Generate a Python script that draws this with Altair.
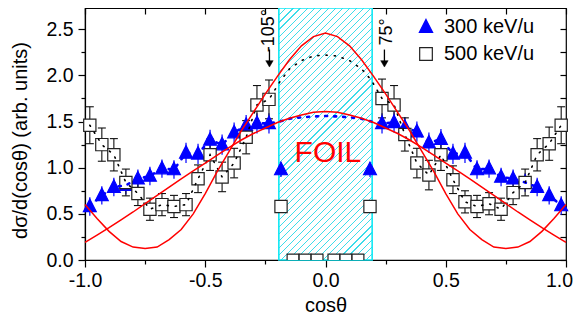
import altair as alt
import pandas as pd

# ---------------- data ----------------
pt_cos = [-0.98, -0.93, -0.88, -0.83, -0.78, -0.73, -0.68, -0.63, -0.58, -0.53,
          -0.48, -0.43, -0.38, -0.33, -0.285, -0.235, -0.185,
          0.185, 0.235, 0.285, 0.33, 0.38, 0.43, 0.48, 0.53, 0.58, 0.63,
          0.68, 0.73, 0.78, 0.83, 0.88, 0.93, 0.98]
tri_300 = [0.58, 0.70, 0.79, 0.81, 0.88, 0.91, 0.99, 0.98, 1.16, 1.15,
           1.30, 1.25, 1.38, 1.46, 1.48, 1.48, 0.98,
           0.98, 1.48, 1.49, 1.44, 1.39, 1.27, 1.31, 1.15, 1.16, 0.98,
           0.99, 0.90, 0.88, 0.84, 0.79, 0.70, 0.59]
tri_err = [0.10, 0.10, 0.10, 0.10, 0.10, 0.10, 0.10, 0.10, 0.11, 0.11,
           0.11, 0.11, 0.11, 0.11, 0.11, 0.11, 0.08,
           0.08, 0.11, 0.11, 0.11, 0.11, 0.11, 0.11, 0.11, 0.11, 0.10,
           0.10, 0.10, 0.10, 0.10, 0.10, 0.10, 0.10]
sq_500 = [1.46, 1.25, 1.14, 0.84, 0.72, 0.55, 0.60, 0.58, 0.60, 0.88,
          1.14, 0.90, 1.05, 1.33, 1.68, 1.74, 0.58,
          0.58, 1.75, 1.68, 1.36, 1.05, 0.92, 1.14, 0.87, 0.63, 0.58,
          0.61, 0.55, 0.73, 0.84, 1.14, 1.26, 1.46]
sq_err = [0.20, 0.18, 0.175, 0.145, 0.13, 0.12, 0.12, 0.12, 0.12, 0.15,
          0.17, 0.16, 0.16, 0.18, 0.21, 0.21, 0.05,
          0.05, 0.21, 0.21, 0.18, 0.16, 0.16, 0.17, 0.15, 0.12, 0.12,
          0.12, 0.12, 0.13, 0.145, 0.175, 0.18, 0.20]

# squares sitting on the axis inside the foil region
bot_cos = [-0.135, -0.085, -0.035, 0.035, 0.085, 0.135]
bot_500 = [0.0, 0.0, 0.0, 0.0, 0.0, 0.0]
bot_err = [0.03, 0.03, 0.03, 0.03, 0.03, 0.03]

# dotted curves through the foil region
arc_cos = [-0.19, -0.15, -0.10, -0.05, 0.0, 0.05, 0.10, 0.15, 0.19]
arc_500 = [1.93, 2.07, 2.16, 2.21, 2.22, 2.21, 2.16, 2.07, 1.95]
arc_300 = [1.50, 1.53, 1.545, 1.555, 1.56, 1.555, 1.545, 1.53, 1.50]

# red fitted curves
fit_cos = [-1.0, -0.95, -0.9, -0.85, -0.8, -0.75, -0.7, -0.65, -0.6, -0.55,
           -0.5, -0.45, -0.4, -0.35, -0.3, -0.25, -0.2, -0.15, -0.1, -0.05,
           0.0, 0.05, 0.1, 0.15, 0.2, 0.25, 0.3, 0.35, 0.4, 0.45,
           0.5, 0.55, 0.6, 0.65, 0.7, 0.75, 0.8, 0.85, 0.9, 0.95, 1.0]
fit_500 = [0.60, 0.45, 0.31, 0.20, 0.14, 0.125, 0.14, 0.22, 0.33, 0.50,
           0.72, 0.96, 1.18, 1.40, 1.60, 1.80, 1.99, 2.17, 2.32, 2.42,
           2.46, 2.42, 2.32, 2.17, 1.99, 1.80, 1.60, 1.40, 1.18, 0.96,
           0.72, 0.50, 0.33, 0.22, 0.14, 0.125, 0.14, 0.20, 0.31, 0.45, 0.60]
fit_300 = [0.19, 0.27, 0.35, 0.435, 0.52, 0.61, 0.70, 0.79, 0.88, 0.965,
           1.05, 1.135, 1.22, 1.30, 1.37, 1.43, 1.49, 1.535, 1.57, 1.60,
           1.61, 1.60, 1.57, 1.535, 1.49, 1.43, 1.37, 1.30, 1.22, 1.135,
           1.05, 0.965, 0.88, 0.79, 0.70, 0.61, 0.52, 0.435, 0.35, 0.27, 0.19]

foil_lo, foil_hi = -0.194, 0.194
series_names = ["300 keV/u", "500 keV/u"]
angle_cos = [-0.233, 0.245]
angle_text = ["-105°", "75°"]
angle_text_cos = [-0.236, 0.256]
angle_text_val = [2.485, 2.47]

# ---------------- layout / style ----------------
W, H = 481, 252
Y_MAX = 2.73
FONT = "Liberation Sans"
BLUE = "#0000ff"
RED = "#ff0000"
CYAN = "#3ddcea"

xs = alt.Scale(domain=[-1, 1], nice=False, zero=False)
ys = alt.Scale(domain=[0, Y_MAX], nice=False, zero=False)

major = "abs(datum.value*2 - round(datum.value*2)) < 0.001"
x_ticks = [-1, -0.75, -0.5, -0.25, 0, 0.25, 0.5, 0.75, 1]
y_ticks = [0, 0.25, 0.5, 0.75, 1, 1.25, 1.5, 1.75, 2, 2.25, 2.5]

common_axis = dict(grid=False, tickColor="black", tickWidth=1.2, domainColor="black",
                   domainWidth=1.2, labelFont=FONT, labelFontSize=19.5, labelColor="black",
                   titleFont=FONT, titleFontSize=20, titleFontWeight="normal",
                   titleColor="black", labelOverlap=False, labelFlush=False)

x_axis = alt.Axis(values=x_ticks,
                  labelExpr=f"{major} ? replace(format(datum.value, '.1f'), '\u2212', '-') : ''",
                  labelOffset={"condition": {"test": "datum.value > 0.99", "value": -7}, "value": 0},
                  tickSize={"condition": {"test": major, "value": 7}, "value": 4},
                  labelPadding=4, title="cosθ", titleY=45, titleBaseline="middle",
                  **common_axis)
y_axis = alt.Axis(values=y_ticks,
                  labelExpr=f"{major} ? format(datum.value, '.1f') : ''",
                  tickSize={"condition": {"test": major, "value": 7}, "value": 4},
                  labelPadding=5, title="dσ/d(cosθ) (arb. units)", titleX=-65, titleY=132,
                  titleBaseline="middle", titleAngle=270, **common_axis)
top_axis = alt.Axis(orient="top", values=x_ticks, labels=False, domain=False, tickSize=6,
                    offset=-6, title=None, grid=False, tickColor="black", tickWidth=1.2)
right_axis = alt.Axis(orient="right", values=y_ticks, labels=False, domain=False, tickSize=6,
                      offset=-6, title=None, grid=False, tickColor="black", tickWidth=1.2)

# ---------------- data frames ----------------
n = len(pt_cos)
pts = pd.DataFrame({
    "cos": pt_cos * 2,
    "val": tri_300 + sq_500,
    "err": tri_err + sq_err,
    "series": [series_names[0]] * n + [series_names[1]] * n,
})
pts["lo"] = pts["val"] - pts["err"]
pts["hi"] = pts["val"] + pts["err"]
tri_df = pts[pts["series"] == series_names[0]]
sq_df = pts[pts["series"] == series_names[1]]

bot = pd.DataFrame({"cos": bot_cos, "val": bot_500, "err": bot_err})
bot["lo"] = bot["val"] - bot["err"]
bot["hi"] = bot["val"] + bot["err"]

fits = pd.DataFrame({
    "cos": fit_cos * 2,
    "val": fit_500 + fit_300,
    "curve": ["500"] * len(fit_cos) + ["300"] * len(fit_cos),
})

# dotted lines: data outside the foil joined to the arc inside
outside = [i for i, c in enumerate(pt_cos) if abs(c) > 0.2]
left_i = [i for i in outside if pt_cos[i] < 0]
right_i = [i for i in outside if pt_cos[i] > 0]
dot500 = pd.DataFrame({
    "cos": [pt_cos[i] for i in left_i] + arc_cos + [pt_cos[i] for i in right_i],
    "val": [sq_500[i] for i in left_i] + arc_500 + [sq_500[i] for i in right_i],
})
dot300 = pd.DataFrame({
    "cos": [pt_cos[i] for i in left_i] + arc_cos + [pt_cos[i] for i in right_i],
    "val": [tri_300[i] for i in left_i] + arc_300 + [tri_300[i] for i in right_i],
})
dot500["o"] = range(len(dot500))
dot300["o"] = range(len(dot300))

foil = pd.DataFrame({"x1": [foil_lo], "x2": [foil_hi], "y1": [0.0], "y2": [Y_MAX]})

arrows = pd.DataFrame({"cos": angle_cos, "top": [2.28, 2.28], "bot": [2.14, 2.14],
                       "tip": [2.125, 2.125]})
angle_df = pd.DataFrame({"cos": angle_text_cos, "val": angle_text_val, "t": angle_text})
foil_lbl = pd.DataFrame({"cos": [0.01], "val": [1.16], "t": ["FOIL"]})

# ---------------- hatch fill (diagonal stripes via hard-stop gradient) ----------------
rw = (foil_hi - foil_lo) / 2.0 * W
r = rw / H
k = (r + 1) / (r * r + 1)
span = rw + H
period = 7.0
nstripe = int(round(span / period))
lw = 1.1 / span
stops = []
for i in range(nstripe):
    s = i / nstripe
    e = min(s + lw, 1.0)
    nxt = (i + 1) / nstripe
    stops += [alt.GradientStop(offset=s, color=CYAN), alt.GradientStop(offset=e, color=CYAN),
              alt.GradientStop(offset=e, color="white"), alt.GradientStop(offset=nxt, color="white")]
hatch = alt.LinearGradient(gradient="linear", stops=stops, x1=0, y1=0, x2=r * k, y2=k)

# ---------------- layers ----------------
foil_layer = alt.Chart(foil).mark_rect(fill=hatch, stroke="#10e8f4", strokeWidth=1.6).encode(
    x=alt.X("x1:Q", scale=xs, axis=top_axis), x2="x2:Q",
    y=alt.Y("y1:Q", scale=ys, axis=right_axis), y2="y2:Q")

tri_err_layer = alt.Chart(tri_df).mark_rule(color=BLUE, strokeWidth=1.2).encode(
    x=alt.X("cos:Q", scale=xs, axis=None), y=alt.Y("lo:Q", scale=ys, axis=None), y2="hi:Q")

sq_err_layer = alt.Chart(sq_df).mark_rule(color="#111111", strokeWidth=1.1).encode(
    x=alt.X("cos:Q", scale=xs, axis=None), y=alt.Y("lo:Q", scale=ys, axis=None), y2="hi:Q")
cap = "M-1,0L1,0"
sq_cap_lo = alt.Chart(sq_df).mark_point(shape=cap, size=64, stroke="#111111", strokeWidth=1.1,
                                        opacity=1).encode(
    x=alt.X("cos:Q", scale=xs, axis=None), y=alt.Y("lo:Q", scale=ys, axis=None))
sq_cap_hi = alt.Chart(sq_df).mark_point(shape=cap, size=64, stroke="#111111", strokeWidth=1.1,
                                        opacity=1).encode(
    x=alt.X("cos:Q", scale=xs, axis=None), y=alt.Y("hi:Q", scale=ys, axis=None))

tri_path = "M0,-1.2L1.05,0.85L-1.05,0.85Z"
leg = dict(orient="none", legendX=331, legendY=9, title=None)
points = alt.Chart(pts).mark_point(size=150, strokeWidth=1.2, opacity=1, fillOpacity=1).encode(
    x=alt.X("cos:Q", scale=xs, axis=x_axis),
    y=alt.Y("val:Q", scale=ys, axis=y_axis),
    shape=alt.Shape("series:N", scale=alt.Scale(domain=series_names, range=[tri_path, "square"]),
                    legend=alt.Legend(labelFont=FONT, labelFontSize=20, labelColor="black",
                                      symbolSize=160, symbolStrokeWidth=1.2, rowPadding=7,
                                      padding=0, labelOffset=8, **leg)),
    fill=alt.Fill("series:N", scale=alt.Scale(domain=series_names, range=[BLUE, "white"]),
                  legend=alt.Legend(**leg)),
    stroke=alt.Stroke("series:N", scale=alt.Scale(domain=series_names, range=[BLUE, "#222222"]),
                      legend=alt.Legend(**leg)),
)

bot_rule = alt.Chart(bot).mark_rule(color="#111111", strokeWidth=1.1, clip=True).encode(
    x=alt.X("cos:Q", scale=xs, axis=None), y=alt.Y("lo:Q", scale=ys, axis=None), y2="hi:Q")
bot_pts = alt.Chart(bot).mark_point(shape="square", size=140, fill="white", stroke="#222222",
                                    strokeWidth=1.2, opacity=1, fillOpacity=1, clip=True).encode(
    x=alt.X("cos:Q", scale=xs, axis=None), y=alt.Y("val:Q", scale=ys, axis=None))

dot_black = alt.Chart(dot500).mark_line(color="black", strokeWidth=1.6, strokeDash=[1.2, 7],
                                        strokeCap="round").encode(
    x=alt.X("cos:Q", scale=xs, axis=None), y=alt.Y("val:Q", scale=ys, axis=None), order="o:Q")
dot_blue = alt.Chart(dot300).mark_line(color=BLUE, strokeWidth=2.6, strokeDash=[2, 7],
                                       strokeCap="round").encode(
    x=alt.X("cos:Q", scale=xs, axis=None), y=alt.Y("val:Q", scale=ys, axis=None), order="o:Q")

fit_layer = alt.Chart(fits).mark_line(color=RED, strokeWidth=1.5).encode(
    x=alt.X("cos:Q", scale=xs, axis=None), y=alt.Y("val:Q", scale=ys, axis=None),
    detail="curve:N", order="cos:Q")

arrow_line = alt.Chart(arrows).mark_rule(color="black", strokeWidth=1.3).encode(
    x=alt.X("cos:Q", scale=xs, axis=None), y=alt.Y("top:Q", scale=ys, axis=None), y2="bot:Q")
arrow_head = alt.Chart(arrows).mark_point(shape="triangle-down", size=55, fill="black",
                                          stroke="black", strokeWidth=0.5, opacity=1,
                                          fillOpacity=1).encode(
    x=alt.X("cos:Q", scale=xs, axis=None), y=alt.Y("tip:Q", scale=ys, axis=None))
angle_lbl = alt.Chart(angle_df).mark_text(font=FONT, fontSize=18, angle=270, align="center",
                                          baseline="middle", color="black").encode(
    x=alt.X("cos:Q", scale=xs, axis=None), y=alt.Y("val:Q", scale=ys, axis=None), text="t:N")
foil_text = alt.Chart(foil_lbl).mark_text(font=FONT, fontSize=30, align="center",
                                          baseline="middle", color=RED).encode(
    x=alt.X("cos:Q", scale=xs, axis=None), y=alt.Y("val:Q", scale=ys, axis=None), text="t:N")

chart = alt.layer(
    foil_layer, tri_err_layer, sq_err_layer, sq_cap_lo, sq_cap_hi, points,
    bot_rule, bot_pts, dot_blue, dot_black, fit_layer, foil_text,
    arrow_line, arrow_head, angle_lbl,
).resolve_axis(x="independent", y="independent").properties(
    width=W, height=H,
    autosize=alt.AutoSizeParams(type="none"),
    padding={"left": 77, "top": 0, "right": 7, "bottom": 56},
).configure_view(stroke="black", strokeWidth=1.2)

chart.save("out.html", embed_options={"renderer": "svg", "actions": False})
